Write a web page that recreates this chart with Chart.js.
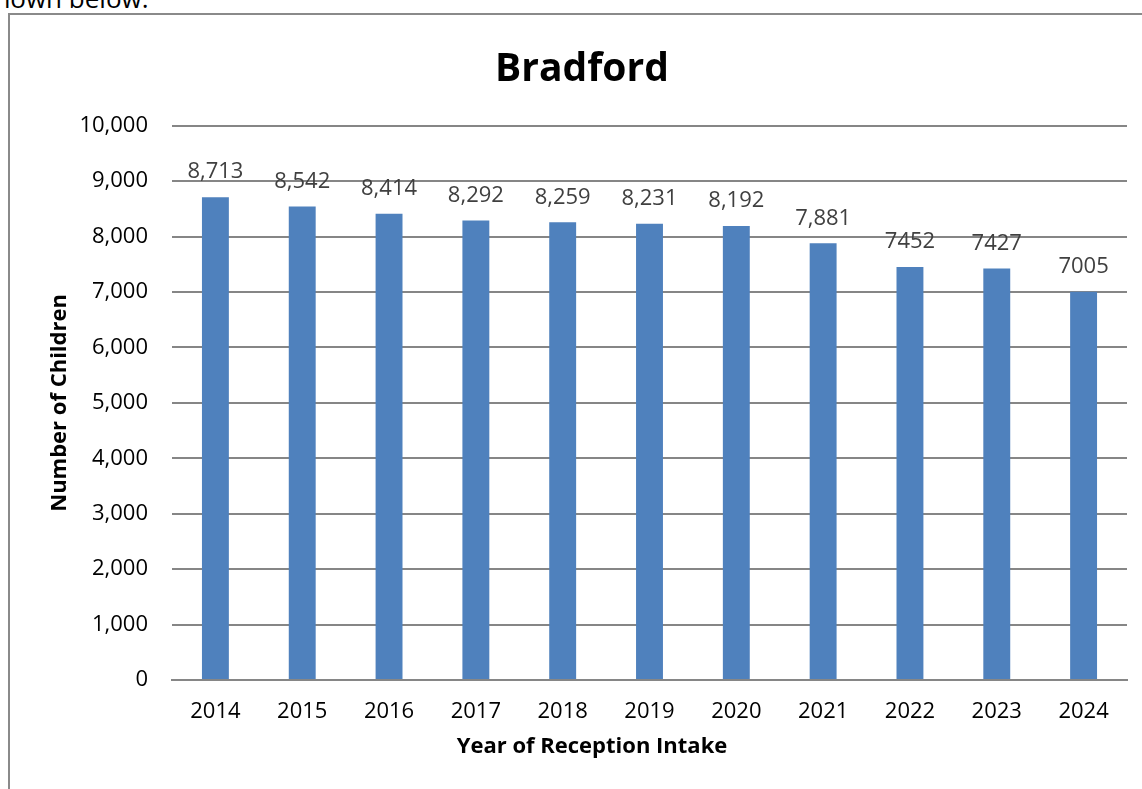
<!DOCTYPE html>
<html>
<head>
<meta charset="utf-8">
<script src="https://cdn.jsdelivr.net/npm/chart.js@4/dist/chart.umd.min.js"></script>
<style>
    html, body { margin: 0; padding: 0; background: #fff; overflow: hidden; }
    #page { position: relative; width: 1142px; height: 789px; }
    #lead { position: absolute; left: -18px; top: -20px; font: 26px "Open Sans", sans-serif; color: #000; white-space: nowrap; }
    #frame { position: absolute; left: 8px; top: 13px; width: 1200px; height: 900px; border: 2px solid #8a8a8a; box-sizing: border-box; }
    #chartCanvas { position: absolute; left: 0; top: 0; }
</style>
</head>
<body>
<div id="page">
    <div id="lead">shown below.</div>
    <div id="frame"></div>
    <canvas id="chartCanvas" width="1142" height="789"></canvas>
</div>
<script>
    var years = ['2014', '2015', '2016', '2017', '2018', '2019', '2020', '2021', '2022', '2023', '2024'];
    var children = [8713, 8542, 8414, 8292, 8259, 8231, 8192, 7881, 7452, 7427, 7005];
    var valueLabels = ['8,713', '8,542', '8,414', '8,292', '8,259', '8,231', '8,192', '7,881', '7452', '7427', '7005'];
    var xTitle = 'Year of Reception Intake';

    var fontFamily = '"Open Sans", Lato, sans-serif';

    // draws the number above each bar, like the excel data labels
    var barLabels = {
        id: 'barLabels',
        afterDatasetsDraw: function (chart) {
            var ctx = chart.ctx;
            var meta = chart.getDatasetMeta(0);
            ctx.save();
            ctx.font = '22px ' + fontFamily;
            ctx.fillStyle = '#404040';
            ctx.textAlign = 'center';
            ctx.textBaseline = 'middle';
            meta.data.forEach(function (bar, i) {
                ctx.fillText(valueLabels[i], bar.x, bar.y - 25);
            });
            ctx.restore();
        }
    };

    // excel centres the x axis title on the whole chart, not on the plot
    var xAxisTitle = {
        id: 'xAxisTitle',
        afterDraw: function (chart) {
            var ctx = chart.ctx;
            var x = chart.scales.x;
            ctx.save();
            ctx.font = 'bold 22px ' + fontFamily;
            ctx.fillStyle = '#000';
            ctx.textAlign = 'center';
            ctx.textBaseline = 'middle';
            ctx.fillText(xTitle, 592, x.bottom - 11);
            ctx.restore();
        }
    };

    var ctx = document.getElementById('chartCanvas').getContext('2d');
    new Chart(ctx, {
        type: 'bar',
        data: {
            labels: years,
            datasets: [{
                label: 'Number of Children',
                data: children,
                backgroundColor: '#4F81BD',
                borderWidth: 0,
                categoryPercentage: 1,
                barPercentage: 0.31
            }]
        },
        options: {
            responsive: false,
            animation: false,
            layout: { padding: { left: 37, right: 15, top: 20, bottom: 31 } },
            plugins: {
                legend: { display: false },
                tooltip: { enabled: false },
                title: {
                    display: true,
                    text: 'Bradford',
                    color: '#000',
                    font: { family: fontFamily, size: 39, weight: 'bold' },
                    padding: { top: 26, bottom: 33 }
                }
            },
            scales: {
                x: {
                    afterFit: function (scale) { scale.height = 78; },
                    grid: { display: false, drawTicks: false },
                    border: { display: true, color: '#868686', width: 2 },
                    ticks: { color: '#000', padding: 19, font: { family: fontFamily, size: 22 } }
                },
                y: {
                    min: 0,
                    max: 10000,
                    afterFit: function (scale) { scale.width = 135; },
                    grid: { color: '#868686', lineWidth: 2, drawTicks: false },
                    border: { display: false },
                    ticks: {
                        stepSize: 1000,
                        padding: 24,
                        color: '#000',
                        font: { family: fontFamily, size: 22 },
                        callback: function (v) { return v.toLocaleString('en-GB'); }
                    },
                    title: {
                        display: true,
                        text: 'Number of Children',
                        color: '#000',
                        font: { family: fontFamily, size: 22, weight: 'bold' },
                        padding: { top: 10, bottom: 0 }
                    }
                }
            }
        },
        plugins: [barLabels, xAxisTitle]
    });
</script>
</body>
</html>
